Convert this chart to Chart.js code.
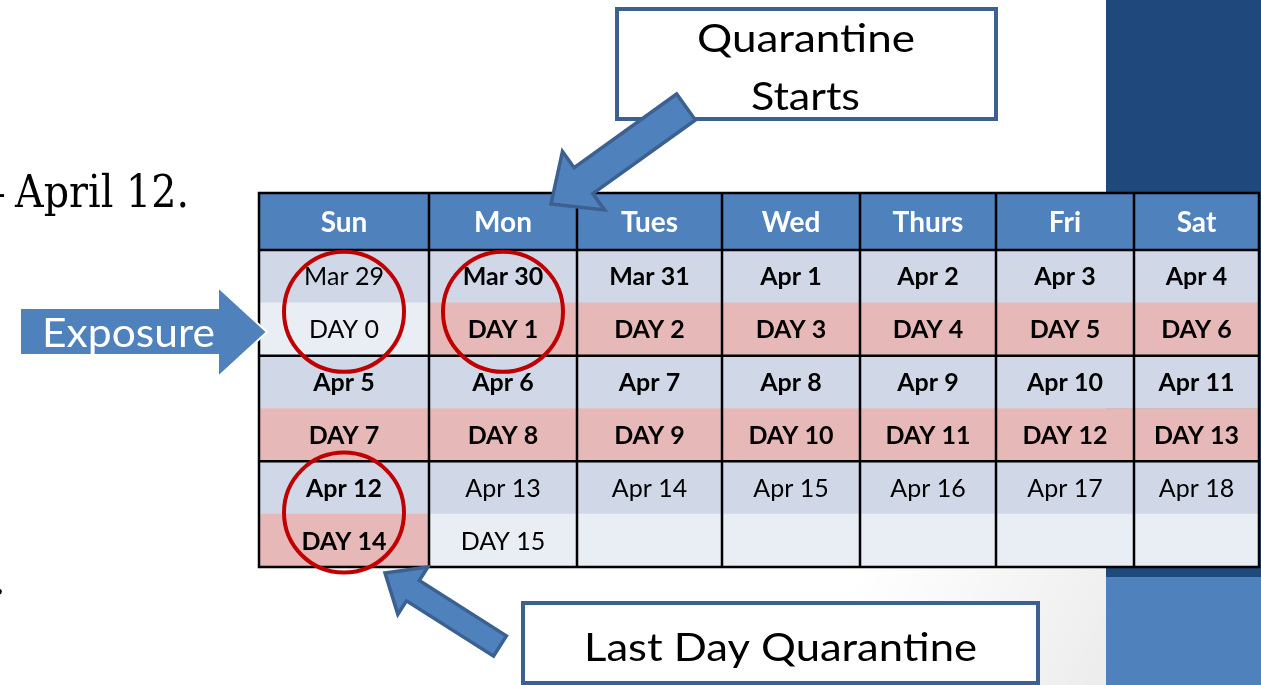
<!DOCTYPE html>
<html>
<head>
<meta charset="utf-8">
<title>Quarantine calendar</title>
<script src="https://cdn.jsdelivr.net/npm/chart.js@4.4.1/dist/chart.umd.min.js"></script>
<style>
  html, body { margin: 0; padding: 0; background: #fff; overflow: hidden; }
  canvas { display: block; }
</style>
</head>
<body>
<canvas id="calendar-chart" width="1261" height="685"></canvas>
<script>
/* Calendar data */
let dayNames = ['Sun', 'Mon', 'Tues', 'Wed', 'Thurs', 'Fri', 'Sat']
let rowLabels = ['Week 1 date', 'Week 1 day', 'Week 2 date', 'Week 2 day', 'Week 3 date', 'Week 3 day']

let week1Dates = ['Mar 29', 'Mar 30', 'Mar 31', 'Apr 1', 'Apr 2', 'Apr 3', 'Apr 4']
let week2Dates = ['Apr 5', 'Apr 6', 'Apr 7', 'Apr 8', 'Apr 9', 'Apr 10', 'Apr 11']
let week3Dates = ['Apr 12', 'Apr 13', 'Apr 14', 'Apr 15', 'Apr 16', 'Apr 17', 'Apr 18']

// day count since exposure, null = no label in the cell
let week1Days = [0, 1, 2, 3, 4, 5, 6]
let week2Days = [7, 8, 9, 10, 11, 12, 13]
let week3Days = [14, 15, null, null, null, null, null]

let quarantineFirstDay = 1
let quarantineLastDay = 14
let circledDays = [0, 1, 14]   // exposure, quarantine starts, last day

let weekDates = [week1Dates, week2Dates, week3Dates]
let weekDays = [week1Days, week2Days, week3Days]

/* Layout + colours */
let colWidths = [170, 148, 145, 138, 136, 138, 125]  // table columns are not all the same width
let headerHeight = 57
let circleNudge = [0.17, 0.17, -0.03]  // circles were hand placed, slightly off the week centre (in rows)
let colEdges = [0]
colWidths.forEach(w => colEdges.push(colEdges[colEdges.length - 1] + w))

let headerColor = '#4F81BD'
let dateRowColor = '#D0D8E8'
let plainDayColor = '#E9EDF4'
let quarantineColor = '#E6B9B8'
let circleColor = '#C00000'
let arrowFill = '#4F81BD'
let arrowEdge = '#3C6090'

function inQuarantine(d) {
    return d !== null && d >= quarantineFirstDay && d <= quarantineLastDay
}

function colCenter(c) {
    return (colEdges[c] + colEdges[c + 1]) / 2
}

// one floating-bar dataset per weekday column
let cellDatasets = dayNames.map(function(day, c) {
    return {
        label: day,
        indexAxis: 'y',
        grouped: false,
        order: 1,
        barPercentage: 1,
        categoryPercentage: 1,
        borderWidth: 0,
        data: rowLabels.map(() => [colEdges[c], colEdges[c + 1]]),
        backgroundColor: rowLabels.map(function(row, r) {
            if (r % 2 === 0) return dateRowColor
            return inQuarantine(weekDays[Math.floor(r / 2)][c]) ? quarantineColor : plainDayColor
        })
    }
})

// red circles round the key days
let circlePoints = []
circledDays.forEach(function(d, i) {
    weekDays.forEach(function(days, w) {
        let c = days.indexOf(d)
        if (c >= 0) circlePoints.push({ x: colCenter(c), y: w * 2 + 0.5 + circleNudge[i] })
    })
})


// squeeze / stretch text so it fills the same width as in the slide
function fitText(ctx, text, left, baseline, width, font, color) {
    ctx.save()
    ctx.font = font
    let w = ctx.measureText(text).width
    ctx.translate(left, baseline)
    ctx.scale(width / w, 1)
    ctx.fillStyle = color
    ctx.textAlign = 'left'
    ctx.textBaseline = 'alphabetic'
    ctx.fillText(text, 0, 0)
    ctx.restore()
}

function blockArrow(ctx, tail, tip, shaftHalf, headHalf, headLen) {
    let dx = tip[0] - tail[0], dy = tip[1] - tail[1]
    let len = Math.hypot(dx, dy)
    let ux = dx / len, uy = dy / len
    let nx = -uy, ny = ux
    let bx = tip[0] - ux * headLen, by = tip[1] - uy * headLen
    ctx.beginPath()
    ctx.moveTo(tail[0] + nx * shaftHalf, tail[1] + ny * shaftHalf)
    ctx.lineTo(bx + nx * shaftHalf, by + ny * shaftHalf)
    ctx.lineTo(bx + nx * headHalf, by + ny * headHalf)
    ctx.lineTo(tip[0], tip[1])
    ctx.lineTo(bx - nx * headHalf, by - ny * headHalf)
    ctx.lineTo(bx - nx * shaftHalf, by - ny * shaftHalf)
    ctx.lineTo(tail[0] - nx * shaftHalf, tail[1] - ny * shaftHalf)
    ctx.closePath()
    ctx.fillStyle = arrowFill
    ctx.fill()
    ctx.lineJoin = 'miter'
    ctx.lineWidth = 3.5
    ctx.strokeStyle = arrowEdge
    ctx.stroke()
}


/* slide background behind the table */
let slidePlugin = {
    id: 'slideBackground',
    beforeDraw(chart) {
        let ctx = chart.ctx
        ctx.save()
        ctx.fillStyle = '#FFFFFF'
        ctx.fillRect(0, 0, chart.width, chart.height)
        let g = ctx.createLinearGradient(860, 560, 1106, 685)
        g.addColorStop(0, 'rgba(238,238,238,0)')
        g.addColorStop(1, '#ECECEC')
        ctx.fillStyle = g
        ctx.fillRect(700, 560, 406, 125)
        ctx.fillStyle = '#1F497D'
        ctx.fillRect(1106, 0, 155, 577)
        ctx.fillStyle = '#4F81BD'
        ctx.fillRect(1106, 577, 155, 108)
        ctx.restore()
    }
}

/* header row, cell text and table rules, drawn right before the circles */
let tablePlugin = {
    id: 'tableText',
    beforeDatasetDraw(chart, args) {
        if (args.meta.type !== 'scatter') return
        let ctx = chart.ctx
        let x = chart.scales.x
        let y = chart.scales.y
        let area = chart.chartArea
        let headTop = area.top - headerHeight
        let rowH = y.getPixelForValue(1) - y.getPixelForValue(0)

        ctx.save()
        // header cells
        ctx.fillStyle = headerColor
        dayNames.forEach(function(name, c) {
            let left = x.getPixelForValue(colEdges[c])
            let right = x.getPixelForValue(colEdges[c + 1])
            ctx.fillRect(left, headTop, right - left, headerHeight)
        })

        // dates and day counts
        ctx.textAlign = 'center'
        ctx.textBaseline = 'alphabetic'
        ctx.fillStyle = '#000'
        weekDates.forEach(function(dates, w) {
            dates.forEach(function(date, c) {
                let cx = x.getPixelForValue(colCenter(c))
                let d = weekDays[w][c]
                ctx.font = (inQuarantine(d) ? 'bold ' : '') + '25px Lato'
                ctx.fillText(date, cx, y.getPixelForValue(w * 2) + 9)
                if (d !== null) ctx.fillText('DAY ' + d, cx, y.getPixelForValue(w * 2 + 1) + 9)
            })
        })

        // black rules
        ctx.strokeStyle = '#000'
        ctx.lineWidth = 2.5
        ctx.beginPath()
        colEdges.forEach(function(e) {
            let px = x.getPixelForValue(e)
            ctx.moveTo(px, headTop)
            ctx.lineTo(px, area.bottom)
        })
        let rules = [headTop, area.top]
        weekDates.forEach((dates, w) => rules.push(y.getPixelForValue(w * 2 + 1) + rowH / 2))
        rules.forEach(function(py) {
            ctx.moveTo(x.getPixelForValue(colEdges[0]) - 1.25, py)
            ctx.lineTo(x.getPixelForValue(colEdges[colEdges.length - 1]) + 1.25, py)
        })
        ctx.stroke()

        // weekday names
        ctx.fillStyle = '#FFFFFF'
        ctx.font = 'bold 28px Lato'
        dayNames.forEach(function(name, c) {
            ctx.fillText(name, x.getPixelForValue(colCenter(c)), headTop + headerHeight / 2 + 10)
        })
        ctx.restore()
    }
}

/* text boxes and arrows on top of everything */
let calloutPlugin = {
    id: 'callouts',
    afterDraw(chart) {
        let ctx = chart.ctx
        ctx.save()

        // bits of slide text cut off on the left
        fitText(ctx, 'April 12.', 15, 207, 174, '44px "DejaVu Serif"', '#000')
        ctx.font = '44px "DejaVu Serif"'
        ctx.fillStyle = '#000'
        ctx.textAlign = 'right'
        ctx.fillText('\u2013', 6, 207)
        ctx.fillText('.', 6, 594)

        // Exposure arrow
        ctx.beginPath()
        ctx.moveTo(20, 308)
        ctx.lineTo(218, 308)
        ctx.lineTo(218, 287)
        ctx.lineTo(267, 332)
        ctx.lineTo(218, 377)
        ctx.lineTo(218, 355)
        ctx.lineTo(20, 355)
        ctx.closePath()
        ctx.fillStyle = arrowFill
        ctx.fill()
        ctx.strokeStyle = '#FFFFFF'
        ctx.lineWidth = 2
        ctx.stroke()
        fitText(ctx, 'Exposure', 42, 347, 173, '40px Lato', '#FFFFFF')

        // Quarantine Starts box
        ctx.fillStyle = '#FFFFFF'
        ctx.fillRect(617, 9, 379, 110)
        ctx.strokeStyle = arrowEdge
        ctx.lineWidth = 4
        ctx.strokeRect(617, 9, 379, 110)
        fitText(ctx, 'Quarantine', 697, 52, 218, '39px Lato', '#000')
        fitText(ctx, 'Starts', 751, 110, 109, '39px Lato', '#000')
        blockArrow(ctx, [686, 107], [551, 204], 16, 36, 40)

        // Last Day Quarantine box
        ctx.fillStyle = '#FFFFFF'
        ctx.fillRect(523, 603, 515, 80)
        ctx.strokeStyle = arrowEdge
        ctx.lineWidth = 4
        ctx.strokeRect(523, 603, 515, 80)
        fitText(ctx, 'Last Day Quarantine', 584, 661, 393, '39px Lato', '#000')
        blockArrow(ctx, [500, 646], [385, 573], 12, 28, 33)

        ctx.restore()
    }
}


function drawChart() {
    let ctx = document.querySelector('#calendar-chart').getContext('2d')

    let calendarChart = new Chart(ctx, {
        type: 'bar',
        data: {
            labels: rowLabels,
            datasets: [
                {
                    type: 'scatter',
                    label: 'Key days',
                    data: circlePoints,
                    yAxisID: 'yCircle',
                    order: 0,
                    clip: false,
                    pointRadius: 60,
                    pointHoverRadius: 60,
                    pointBorderWidth: 4,
                    pointHoverBorderWidth: 4,
                    pointBorderColor: circleColor,
                    pointBackgroundColor: 'rgba(0,0,0,0)'
                }
            ].concat(cellDatasets)
        },
        options: {
            responsive: false,
            animation: false,
            devicePixelRatio: 1,
            events: [],
            layout: {
                autoPadding: false,   // keep the big circles from shrinking the table
                padding: { left: 259, right: 2, top: 193 + headerHeight, bottom: 118 }
            },
            plugins: {
                legend: { display: false },
                tooltip: { enabled: false }
            },
            scales: {
                x: { type: 'linear', min: 0, max: colEdges[colEdges.length - 1], offset: false, display: false },
                y: { type: 'category', labels: rowLabels, offset: true, display: false },
                yCircle: { type: 'linear', min: -0.5, max: rowLabels.length - 0.5, reverse: true, display: false }
            }
        },
        plugins: [slidePlugin, tablePlugin, calloutPlugin]
    })
}

let fontsNeeded = ['25px Lato', 'bold 25px Lato', 'bold 28px Lato', '40px Lato', '44px "DejaVu Serif"']
Promise.all(fontsNeeded.map(f => document.fonts.load(f)))
    .then(drawChart)
    .catch(drawChart)
</script>
</body>
</html>
